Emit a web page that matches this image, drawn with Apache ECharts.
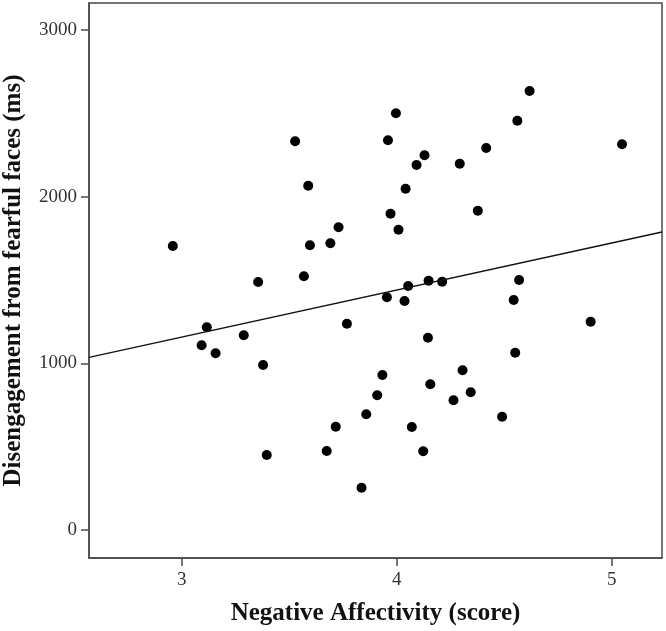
<!DOCTYPE html>
<html>
<head>
<meta charset="utf-8">
<script src="https://cdn.jsdelivr.net/npm/echarts@6/dist/echarts.min.js"></script>
<style>
  html, body { margin: 0; padding: 0; background: #fff; }
  #chart { width: 666px; height: 631px; }
</style>
</head>
<body>
<div id="chart"></div>
<script>
// negative affectivity score (x) and disengagement time in ms (y)
const negAffect = [
  2.958, 3.116, 3.092, 3.157, 3.288, 3.378, 3.395, 3.355, 3.527, 3.568,
  3.588, 3.596, 3.691, 3.729, 3.768, 3.674, 3.716, 3.836, 3.858, 3.909,
  3.933, 3.959, 3.996, 3.971, 4.008, 3.954, 4.036, 4.053, 4.041, 4.092,
  4.129, 4.070, 4.123, 4.148, 4.211, 4.145, 4.156, 4.293, 4.264, 4.306,
  4.344, 4.377, 4.416, 4.490, 4.544, 4.551, 4.561, 4.569, 4.618, 4.902,
  5.048
]
const disengage = [
  1704, 1216, 1108, 1060, 1168, 990, 450, 1488, 2332, 1522,
  2066, 1708, 1720, 1816, 1238, 474, 620, 254, 694, 808,
  930, 2338, 2500, 1898, 1802, 1396, 1374, 1464, 2048, 2190,
  2248, 618, 472, 1496, 1490, 1154, 874, 2198, 778, 958,
  826, 1916, 2292, 680, 1380, 1064, 2456, 1500, 2634, 1250,
  2314
]
// fit line end points at the plot edges
const fitX = [2.568, 5.234]
const fitY = [1036, 1788]

const xTicks = [3, 4, 5]
const yTicks = [0, 1000, 2000, 3000]

const points = negAffect.map((x, i) => [x, disengage[i]])
const fitLine = fitX.map((x, i) => [x, fitY[i]])

const font = '"Liberation Serif", "Times New Roman", serif'
const axisColor = '#4a4a4a'

const chart = echarts.init(document.getElementById('chart'))
chart.setOption({
  animation: false,
  textStyle: { fontFamily: font },
  grid: {
    left: 89, right: 4, top: 3, bottom: 73,
    outerBoundsMode: 'none',
    containLabel: false,
    show: true,
    borderColor: axisColor,
    borderWidth: 1.5
  },
  xAxis: {
    type: 'value',
    min: 2.568,
    max: 5.234,
    name: 'Negative Affectivity (score)',
    nameLocation: 'middle',
    nameGap: 43,
    nameTextStyle: { fontFamily: font, fontSize: 25, fontWeight: 'bold', color: '#111' },
    axisLine: { onZero: false, lineStyle: { color: axisColor, width: 1.5 } },
    axisTick: { show: true, inside: false, length: 8, customValues: xTicks, lineStyle: { color: axisColor, width: 1.5 } },
    axisLabel: { customValues: xTicks, margin: 13, fontFamily: font, fontSize: 19, color: '#333' },
    splitLine: { show: false }
  },
  yAxis: {
    type: 'value',
    min: -168,
    max: 3162,
    name: 'Disengagement from fearful faces (ms)',
    nameLocation: 'middle',
    nameGap: 63,
    nameTextStyle: { fontFamily: font, fontSize: 25, fontWeight: 'bold', color: '#111' },
    axisLine: { show: true, onZero: false, lineStyle: { color: axisColor, width: 1.5 } },
    axisTick: { show: true, inside: false, length: 8, customValues: yTicks, lineStyle: { color: axisColor, width: 1.5 } },
    axisLabel: {
      customValues: yTicks,
      margin: 12,
      fontFamily: font,
      fontSize: 19,
      color: '#333',
      formatter: (v) => String(v)
    },
    splitLine: { show: false }
  },
  series: [
    {
      type: 'scatter',
      data: points,
      symbol: 'circle',
      symbolSize: 10,
      itemStyle: { color: '#000', opacity: 1 }
    },
    {
      type: 'line',
      data: fitLine,
      symbol: 'none',
      lineStyle: { color: '#111', width: 1.3 }
    }
  ]
})
</script>
</body>
</html>
